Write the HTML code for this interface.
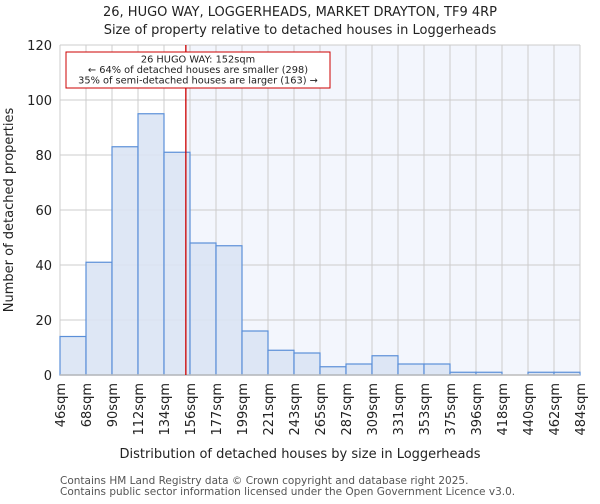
<!DOCTYPE html>
<html><head><meta charset="utf-8"><style>
body{margin:0;background:#fff;font-family:"DejaVu Sans","Liberation Sans",sans-serif;}
svg text{font-family:"DejaVu Sans","Liberation Sans",sans-serif;}
</style></head><body>
<svg id="chart" width="600" height="500" xmlns="http://www.w3.org/2000/svg">
<text x="300" y="16" text-anchor="middle" font-size="13" fill="#222">26, HUGO WAY, LOGGERHEADS, MARKET DRAYTON, TF9 4RP</text>
<text x="300" y="34" text-anchor="middle" font-size="13" fill="#222">Size of property relative to detached houses in Loggerheads</text>
<g id="plot"></g>
<text x="300" y="458" text-anchor="middle" font-size="13" fill="#222">Distribution of detached houses by size in Loggerheads</text>
<text transform="translate(13,210) rotate(-90)" text-anchor="middle" font-size="13" fill="#222">Number of detached properties</text>
<text x="60" y="484" font-size="10.5" fill="#555">Contains HM Land Registry data © Crown copyright and database right 2025.</text>
<text x="60" y="495" font-size="10.5" fill="#555">Contains public sector information licensed under the Open Government Licence v3.0.</text>
</svg>
<script>
const binLabels=["46sqm","68sqm","90sqm","112sqm","134sqm","156sqm","177sqm","199sqm","221sqm","243sqm","265sqm","287sqm","309sqm","331sqm","353sqm","375sqm","396sqm","418sqm","440sqm","462sqm","484sqm"];
const counts=[14,41,83,95,81,48,47,16,9,8,3,4,7,4,4,1,1,0,1,1];
const yTicks=[0,20,40,60,80,100,120];
const binStart=46, binEnd=484;
const propertySize=152;
const NS="http://www.w3.org/2000/svg";
const L=60,R=580,T=45,B=375,yMax=120;
const n=counts.length, bw=(R-L)/n;
const xi=i=>L+i*bw;
const xv=v=>L+(v-binStart)/(binEnd-binStart)*(R-L);
const y=v=>B-v/yMax*(B-T);
const g=document.getElementById('plot');
function mk(t,a){const e=document.createElementNS(NS,t);for(const k in a)e.setAttribute(k,a[k]);g.appendChild(e);return e;}
const px=xv(propertySize);
let e=mk('rect',{x:px,y:T,width:R-px,height:B-T,fill:"#f3f6fd"});


yTicks.forEach(v=>{
 let l=mk('line',{x1:L,x2:R,y1:y(v),y2:y(v),stroke:"#cccccc","stroke-width":1});
 
 
 let t=mk('text',{x:L-8,y:y(v)+5,"text-anchor":"end","font-size":13,fill:"#222"});
 t.textContent=v;
 
 
});
binLabels.forEach((s,i)=>{
 let l=mk('line',{x1:xi(i),x2:xi(i),y1:T,y2:B,stroke:"#cccccc","stroke-width":1});
 
 
 let t=mk('text',{transform:`translate(${xi(i)+5},${B+8}) rotate(-90)`,"text-anchor":"end","font-size":13,fill:"#222"});
 t.textContent=s;
 
 
});
counts.forEach((c,i)=>{
 if(c<=0)return;
 let r=mk('rect',{x:xi(i),y:y(c),width:bw,height:B-y(c),fill:"#dae4f4","fill-opacity":0.9,stroke:"#5b8fd8","stroke-width":1.2});
 
 
});
e=mk('line',{x1:L,x2:R,y1:B,y2:B,stroke:"#bbbbbb","stroke-width":1.5});


e=mk('line',{x1:px,x2:px,y1:T,y2:B,stroke:"#cc0000","stroke-width":1.3});


e=mk('rect',{x:66,y:52,width:264,height:36,fill:"#fff",stroke:"#cc0000","stroke-width":1});


["26 HUGO WAY: 152sqm","← 64% of detached houses are smaller (298)","35% of semi-detached houses are larger (163) →"].forEach((s,i)=>{
 let t=mk('text',{x:198,y:62.5+i*10.5,"text-anchor":"middle","font-size":9.8,fill:"#222"});
 t.textContent=s;
 
 
});
</script>
</body></html>
